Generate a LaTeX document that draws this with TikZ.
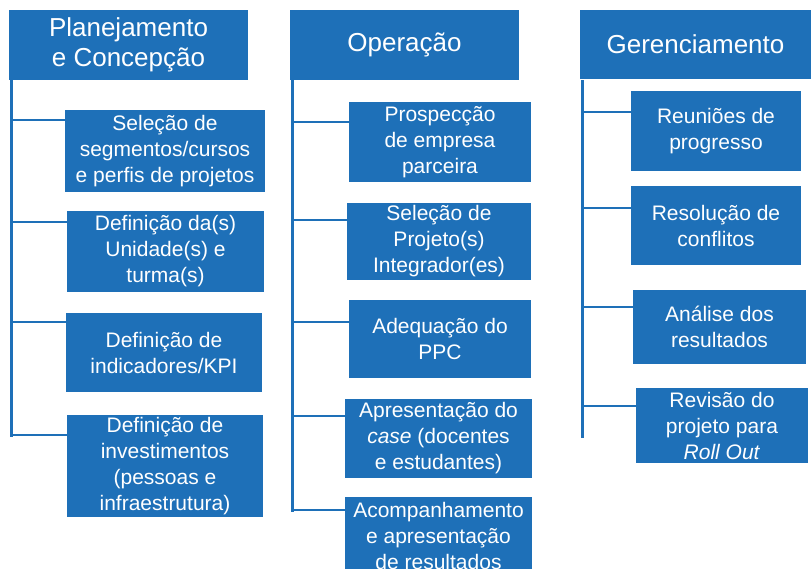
\documentclass[tikz,border=0pt]{standalone}
\usepackage{fontspec}
\setmainfont{Liberation Sans}

\definecolor{boxblue}{RGB}{30,112,184}

\tikzset{
	head/.style={fill=boxblue, text=white, inner sep=0pt, align=center, font=\fontsize{26}{29.5}\selectfont},
	item/.style={fill=boxblue, text=white, inner sep=0pt, align=center, font=\fontsize{21}{26}\selectfont},
	trunk/.style={draw=boxblue, line width=3pt},
	twig/.style={draw=boxblue, line width=2.5pt},
}

\begin{document}
\begin{tikzpicture}[x=1pt, y=-1pt]

\path [use as bounding box] (0,0) rectangle (811,568);
\clip (0,0) rectangle (811,568);

% HEADERS
\node [head, minimum width=239, minimum height=70] (h1) at (128.5,45) {Planejamento\\e Concepção};
\node [head, minimum width=229, minimum height=70] (h2) at (404.5,45) {Operação};
\node [head, minimum width=231, minimum height=69] (h3) at (695.5,44.5) {Gerenciamento};

% PLANEJAMENTO
\node [item, minimum width=200, minimum height=82] (p1) at (165,151) {Seleção de\\segmentos/cursos\\e perfis de projetos};
\node [item, minimum width=197, minimum height=81] (p2) at (165.5,251.5) {Definição da(s)\\Unidade(s) e\\turma(s)};
\node [item, minimum width=196, minimum height=79] (p3) at (164,352.5) {Definição de\\indicadores/KPI};
\node [item, minimum width=196, minimum height=102] (p4) at (165,466) {Definição de\\investimentos\\(pessoas e\\infraestrutura)};

% OPERACAO
\node [item, minimum width=182, minimum height=80] (o1) at (440,142) {Prospecção\\de empresa\\parceira};
\node [item, minimum width=184, minimum height=77] (o2) at (439,241.5) {Seleção de\\Projeto(s)\\Integrador(es)};
\node [item, minimum width=182, minimum height=78] (o3) at (440,339) {Adequação do\\PPC};
\node [item, minimum width=187, minimum height=79] (o4) at (438.5,438.5) {Apresentação do\\\textit{case} (docentes\\e estudantes)};
\node [item, minimum width=187, minimum height=78] (o5) at (438.5,536) {Acompanhamento\\e apresentação\\de resultados};

% GERENCIAMENTO
\node [item, minimum width=170, minimum height=80] (g1) at (716,131) {Reuniões de\\progresso};
\node [item, minimum width=170, minimum height=79] (g2) at (716,225.5) {Resolução de\\conflitos};
\node [item, minimum width=173, minimum height=74] (g3) at (719.5,327) {Análise dos\\resultados};
\node [item, minimum width=172, minimum height=75] (g4) at (722,425.5) {Revisão do\\projeto para\\\textit{Roll Out}};

% TRUNKS
\path (h1.south west) ++(3,0) coordinate (t1);
\path (h2.south west) ++(3,0) coordinate (t2);
\path (h3.south west) ++(2.5,1) coordinate (t3);
\draw [trunk] (t1) -- ++(0,357);
\draw [trunk] (t2) -- ++(0,432);
\draw [trunk] (t3) -- ++(0,358);

% BRANCHES
\foreach \n/\d in {p1/10, p2/11, p3/9, p4/20} {
	\path (\n.north west) ++(0,\d) coordinate (b);
	\draw [twig] (t1 |- b) -- (b);
}
\foreach \n/\d in {o1/20, o2/17, o3/22, o4/17, o5/13} {
	\path (\n.north west) ++(0,\d) coordinate (b);
	\draw [twig] (t2 |- b) -- (b);
}
\foreach \n/\d in {g1/21, g2/22, g3/17, g4/18} {
	\path (\n.north west) ++(0,\d) coordinate (b);
	\draw [twig] (t3 |- b) -- (b);
}

\end{tikzpicture}
\end{document}
